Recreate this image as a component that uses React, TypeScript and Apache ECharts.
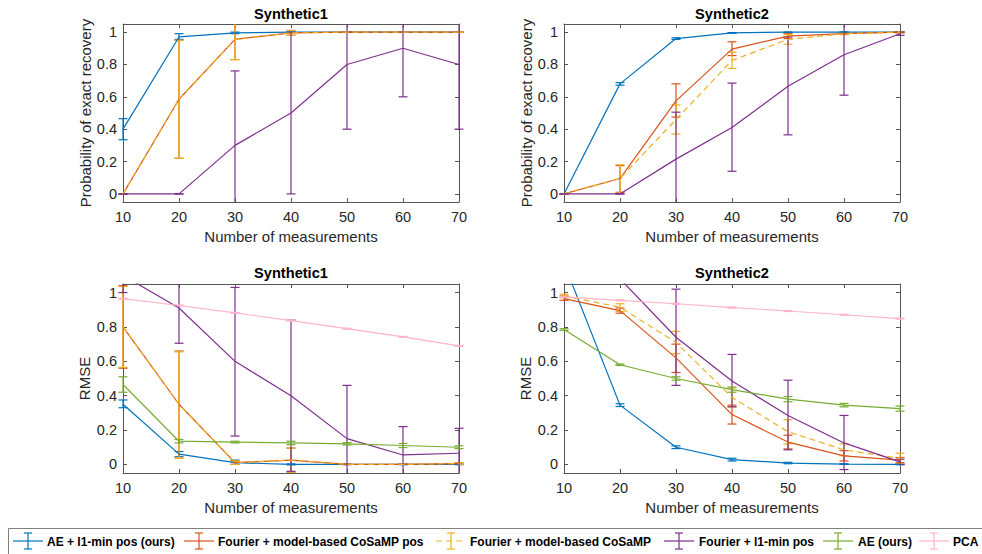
import React, { useEffect, useRef } from "react";
import * as echarts from "echarts";

// ---------- data ----------
const xs = [10, 20, 30, 40, 50, 60, 70];

const methodNames = [
  "AE + l1-min pos (ours)",
  "Fourier + model-based CoSaMP pos",
  "Fourier + model-based CoSaMP",
  "Fourier + l1-min pos",
  "AE (ours)",
  "PCA",
];
const methodColors = ["#0072BD", "#D95319", "#EDB120", "#7E2F8E", "#77AC30", "#FFB4C8"];
const methodDashed = [false, false, true, false, false, false];

const panelTitles = ["Synthetic1", "Synthetic2", "Synthetic1", "Synthetic2"];
const panelYNames = ["Probability of exact recovery", "Probability of exact recovery", "RMSE", "RMSE"];
const xAxisName = "Number of measurements";

// Panel 1: Synthetic1, probability of exact recovery
const p1Blue = [0.4, 0.97, 0.995, 1, 1, 1, 1];
const p1BlueLo = [0.335, 0.955, 0.99, 0.997, 0.999, 0.999, 0.999];
const p1BlueHi = [0.465, 0.99, 1.0, 1.0, 1.0, 1.0, 1.0];
const p1Orange = [0, 0.585, 0.955, 0.995, 1, 1, 1];
const p1OrangeLo = [0, 0.22, 0.83, 0.98, 1, 1, 1];
const p1OrangeHi = [0, 0.95, 1.08, 1.01, 1, 1, 1];
const p1Yellow = [0, 0.585, 0.955, 0.995, 1, 1, 1];
const p1YellowLo = [0, 0.22, 0.83, 0.98, 1, 1, 1];
const p1YellowHi = [0, 0.95, 1.08, 1.01, 1, 1, 1];
const p1Purple = [0, 0, 0.3, 0.5, 0.8, 0.9, 0.8];
const p1PurpleLo = [0, 0, -0.16, 0, 0.4, 0.6, 0.4];
const p1PurpleHi = [0, 0, 0.76, 1.0, 1.2, 1.2, 1.2];

// Panel 2: Synthetic2, probability of exact recovery
const p2Blue = [0, 0.68, 0.96, 0.995, 1, 1, 1];
const p2BlueLo = [0, 0.672, 0.955, 0.993, 0.998, 1, 1];
const p2BlueHi = [0, 0.688, 0.965, 0.997, 1.0, 1, 1];
const p2Orange = [0, 0.095, 0.575, 0.895, 0.975, 0.99, 1];
const p2OrangeLo = [0, 0.01, 0.475, 0.855, 0.96, 0.985, 0.995];
const p2OrangeHi = [0, 0.175, 0.68, 0.94, 0.99, 0.995, 1.0];
const p2Yellow = [0, 0.095, 0.46, 0.825, 0.955, 0.99, 1];
const p2YellowLo = [0, 0.005, 0.37, 0.775, 0.925, 0.985, 0.995];
const p2YellowHi = [0, 0.18, 0.55, 0.875, 0.985, 0.995, 1.0];
const p2Purple = [0, 0, 0.215, 0.41, 0.665, 0.86, 0.99];
const p2PurpleLo = [0, 0, -0.075, 0.14, 0.365, 0.61, 0.98];
const p2PurpleHi = [0, 0, 0.505, 0.685, 0.97, 1.11, 1.0];

// Panel 3: Synthetic1, RMSE
const p3Blue = [0.35, 0.06, 0.01, 0.0, 0.0, 0.0, 0.0];
const p3BlueLo = [0.33, 0.045, 0.0, -0.003, -0.002, -0.002, -0.002];
const p3BlueHi = [0.375, 0.075, 0.025, 0.003, 0.002, 0.002, 0.002];
const p3Orange = [0.8, 0.35, 0.01, 0.025, 0, 0, 0.005];
const p3OrangeLo = [0.56, 0.035, 0.0, -0.045, 0, 0, 0];
const p3OrangeHi = [1.04, 0.66, 0.02, 0.095, 0, 0, 0.01];
const p3Yellow = [0.8, 0.35, 0.01, 0.025, 0, 0, 0.005];
const p3YellowLo = [0.565, 0.035, 0.0, -0.045, 0, 0, 0];
const p3YellowHi = [1.035, 0.655, 0.02, 0.095, 0, 0, 0.01];
const p3Purple = [1.1, 0.91, 0.6, 0.4, 0.15, 0.055, 0.065];
const p3PurpleLo = [1.0, 0.705, 0.165, -0.04, -0.16, -0.11, -0.08];
const p3PurpleHi = [1.2, 1.12, 1.03, 0.84, 0.46, 0.22, 0.21];
const p3Green = [0.465, 0.135, 0.13, 0.125, 0.12, 0.11, 0.1];
const p3GreenLo = [0.42, 0.125, 0.125, 0.115, 0.113, 0.098, 0.092];
const p3GreenHi = [0.51, 0.145, 0.135, 0.135, 0.127, 0.122, 0.108];
const p3Pink = [0.965, 0.925, 0.882, 0.837, 0.79, 0.742, 0.69];
const p3PinkLo = [0.962, 0.922, 0.879, 0.834, 0.787, 0.739, 0.687];
const p3PinkHi = [0.968, 0.928, 0.885, 0.84, 0.793, 0.745, 0.693];

// Panel 4: Synthetic2, RMSE
const p4Blue = [1.17, 0.345, 0.1, 0.028, 0.008, 0.002, 0.0];
const p4BlueLo = [1.15, 0.337, 0.092, 0.02, 0.004, 0.0, -0.002];
const p4BlueHi = [1.19, 0.353, 0.108, 0.036, 0.012, 0.004, 0.002];
const p4Orange = [0.965, 0.895, 0.62, 0.29, 0.13, 0.05, 0.025];
const p4OrangeLo = [0.955, 0.88, 0.535, 0.235, 0.09, 0.02, 0.01];
const p4OrangeHi = [0.98, 0.91, 0.7, 0.345, 0.17, 0.08, 0.04];
const p4Yellow = [0.98, 0.915, 0.71, 0.39, 0.19, 0.085, 0.035];
const p4YellowLo = [0.97, 0.89, 0.645, 0.335, 0.12, 0.05, 0.005];
const p4YellowHi = [0.99, 0.935, 0.775, 0.445, 0.26, 0.12, 0.065];
const p4Purple = [1.3, 1.08, 0.74, 0.485, 0.285, 0.125, 0.015];
const p4PurpleLo = [1.2, 1.06, 0.46, 0.335, 0.085, -0.03, 0.0];
const p4PurpleHi = [1.4, 1.2, 1.02, 0.64, 0.49, 0.285, 0.03];
const p4Green = [0.785, 0.58, 0.5, 0.435, 0.38, 0.345, 0.325];
const p4GreenLo = [0.78, 0.576, 0.49, 0.42, 0.365, 0.335, 0.31];
const p4GreenHi = [0.79, 0.584, 0.51, 0.45, 0.395, 0.355, 0.34];
const p4Pink = [0.975, 0.955, 0.935, 0.913, 0.893, 0.871, 0.849];
const p4PinkLo = [0.972, 0.952, 0.932, 0.91, 0.89, 0.868, 0.846];
const p4PinkHi = [0.978, 0.958, 0.938, 0.916, 0.896, 0.874, 0.852];

// [methodIndex, values, lo, hi] per panel
const panels: [number, number[], number[], number[]][][] = [
  [
    [0, p1Blue, p1BlueLo, p1BlueHi],
    [1, p1Orange, p1OrangeLo, p1OrangeHi],
    [2, p1Yellow, p1YellowLo, p1YellowHi],
    [3, p1Purple, p1PurpleLo, p1PurpleHi],
  ],
  [
    [0, p2Blue, p2BlueLo, p2BlueHi],
    [1, p2Orange, p2OrangeLo, p2OrangeHi],
    [2, p2Yellow, p2YellowLo, p2YellowHi],
    [3, p2Purple, p2PurpleLo, p2PurpleHi],
  ],
  [
    [0, p3Blue, p3BlueLo, p3BlueHi],
    [1, p3Orange, p3OrangeLo, p3OrangeHi],
    [2, p3Yellow, p3YellowLo, p3YellowHi],
    [3, p3Purple, p3PurpleLo, p3PurpleHi],
    [4, p3Green, p3GreenLo, p3GreenHi],
    [5, p3Pink, p3PinkLo, p3PinkHi],
  ],
  [
    [0, p4Blue, p4BlueLo, p4BlueHi],
    [1, p4Orange, p4OrangeLo, p4OrangeHi],
    [2, p4Yellow, p4YellowLo, p4YellowHi],
    [3, p4Purple, p4PurpleLo, p4PurpleHi],
    [4, p4Green, p4GreenLo, p4GreenHi],
    [5, p4Pink, p4PinkLo, p4PinkHi],
  ],
];

// ---------- layout ----------
const W = 982;
const H = 554;
const gridBoxes = [
  { left: 123, top: 24, width: 336, height: 178 },
  { left: 564, top: 24, width: 336, height: 178 },
  { left: 123, top: 284, width: 336, height: 189 },
  { left: 564, top: 284, width: 336, height: 189 },
];
const FONT = '"Liberation Sans", Arial, Helvetica, sans-serif';
const TXT = "#262626";
const BOX = "#555555";
const LW = 1.2;

const legendIconX = [28, 199, 451, 679, 838, 934];
const legendTextX = [47, 218, 470, 699, 858, 953];

function buildOption() {
  const grids: any[] = [];
  const xAxes: any[] = [];
  const yAxes: any[] = [];
  const series: any[] = [];
  const graphics: any[] = [];

  gridBoxes.forEach((g, i) => {
    grids.push({ left: g.left, top: g.top, width: g.width, height: g.height, show: false });
    const common = {
      gridIndex: i,
      type: "value",
      axisLine: { show: true, onZero: false, lineStyle: { color: BOX, width: 1 } },
      axisTick: { show: true, inside: true, length: 4, lineStyle: { color: BOX, width: 1 } },
      splitLine: { show: false },
    };
    xAxes.push({
      ...common,
      position: "bottom",
      min: 10,
      max: 70,
      interval: 10,
      name: xAxisName,
      nameLocation: "middle",
      nameGap: 27,
      nameTextStyle: { color: TXT, fontSize: 15, fontFamily: FONT },
      axisLabel: { show: true, color: TXT, fontSize: 14.5, fontFamily: FONT, margin: 7 },
    });
    xAxes.push({
      ...common,
      position: "top",
      min: 10,
      max: 70,
      interval: 10,
      axisLabel: { show: false },
    });
    const yc = {
      ...common,
      min: -0.05,
      max: 1.05,
      splitNumber: 5,
      minInterval: 0.2,
      maxInterval: 0.2,
    };
    yAxes.push({
      ...yc,
      position: "left",
      name: panelYNames[i],
      nameLocation: "middle",
      nameGap: i < 2 ? 28 : 31,
      nameTextStyle: { color: TXT, fontSize: 15, fontFamily: FONT },
      axisLabel: {
        show: true,
        color: TXT,
        fontSize: 14.5,
        fontFamily: FONT,
        margin: 6,
        showMinLabel: false,
        showMaxLabel: false,
      },
    });
    yAxes.push({
      ...yc,
      position: "right",
      axisLabel: { show: false },
    });

    graphics.push({
      type: "text",
      x: g.left + g.width / 2,
      y: i < 2 ? 13.5 : 272.5,
      style: {
        text: panelTitles[i],
        align: "center",
        verticalAlign: "middle",
        fontSize: 14.6,
        fontWeight: "bold",
        fontFamily: FONT,
        fill: "#000",
      },
    });

    panels[i].forEach(([m, vals, lo, hi]) => {
      const color = methodColors[m];
      series.push({
        name: methodNames[m],
        type: "line",
        xAxisIndex: 2 * i,
        yAxisIndex: 2 * i,
        data: xs.map((x, k) => [x, vals[k]]),
        showSymbol: false,
        symbol: "none",
        clip: true,
        lineStyle: { color, width: LW, type: methodDashed[m] ? [6, 4] : "solid" },
        itemStyle: { color },
        silent: true,
      });
      series.push({
        name: methodNames[m] + " err",
        type: "custom",
        xAxisIndex: 2 * i,
        yAxisIndex: 2 * i,
        clip: false,
        silent: true,
        encode: { x: 0, y: [1, 2] },
        data: xs.map((x, k) => [x, lo[k], hi[k]]),
        renderItem: (params: any, api: any) => {
          const cs = params.coordSys;
          const top = cs.y;
          const bottom = cs.y + cs.height;
          const x = api.value(0);
          const a = api.coord([x, api.value(1)]);
          const b = api.coord([x, api.value(2)]);
          const hw = 4.5;
          const style = { stroke: color, lineWidth: LW, fill: null };
          const children: any[] = [];
          const y1 = Math.min(Math.max(a[1], top), bottom);
          const y2 = Math.min(Math.max(b[1], top), bottom);
          if (Math.abs(y1 - y2) > 0.01) {
            children.push({ type: "line", shape: { x1: a[0], y1, x2: b[0], y2 }, style });
          }
          if (a[1] >= top - 0.5 && a[1] <= bottom + 0.5) {
            children.push({ type: "line", shape: { x1: a[0] - hw, y1: a[1], x2: a[0] + hw, y2: a[1] }, style });
          }
          if (b[1] >= top - 0.5 && b[1] <= bottom + 0.5) {
            children.push({ type: "line", shape: { x1: b[0] - hw, y1: b[1], x2: b[0] + hw, y2: b[1] }, style });
          }
          return { type: "group", children };
        },
      });
    });
  });

  // legend box
  graphics.push({
    type: "rect",
    shape: { x: 8.5, y: 528.5, width: 990, height: 40 },
    style: { stroke: "#7f7f7f", fill: "#fff", lineWidth: 1 },
    z: 0,
  });
  methodNames.forEach((name, m) => {
    const cx = legendIconX[m];
    const cy = 541;
    const color = methodColors[m];
    const st = { stroke: color, lineWidth: LW, fill: null };
    graphics.push({
      type: "line",
      shape: { x1: cx - 15, y1: cy, x2: cx + 15, y2: cy },
      style: { ...st, lineDash: methodDashed[m] ? [6, 4] : null },
      z: 1,
    });
    graphics.push({ type: "line", shape: { x1: cx, y1: cy - 8, x2: cx, y2: cy + 8 }, style: st, z: 1 });
    graphics.push({ type: "line", shape: { x1: cx - 4, y1: cy - 8, x2: cx + 4, y2: cy - 8 }, style: st, z: 1 });
    graphics.push({ type: "line", shape: { x1: cx - 4, y1: cy + 8, x2: cx + 4, y2: cy + 8 }, style: st, z: 1 });
    graphics.push({
      type: "text",
      x: legendTextX[m],
      y: cy + 0.5,
      style: {
        text: name,
        align: "left",
        verticalAlign: "middle",
        fontSize: 12,
        fontWeight: "bold",
        fontFamily: FONT,
        fill: "#000",
      },
      z: 1,
    });
  });

  return {
    animation: false,
    backgroundColor: "#fff",
    grid: grids,
    xAxis: xAxes,
    yAxis: yAxes,
    series,
    graphic: graphics,
  };
}

export default function App() {
  const ref = useRef<HTMLDivElement>(null);
  useEffect(() => {
    if (!ref.current) return;
    const chart = echarts.init(ref.current, undefined, { renderer: "svg" });
    chart.setOption(buildOption() as any);
    return () => chart.dispose();
  }, []);
  return (
    <div
      ref={ref}
      style={{ position: "fixed", left: 0, top: 0, width: W, height: H, background: "#fff" }}
    />
  );
}
